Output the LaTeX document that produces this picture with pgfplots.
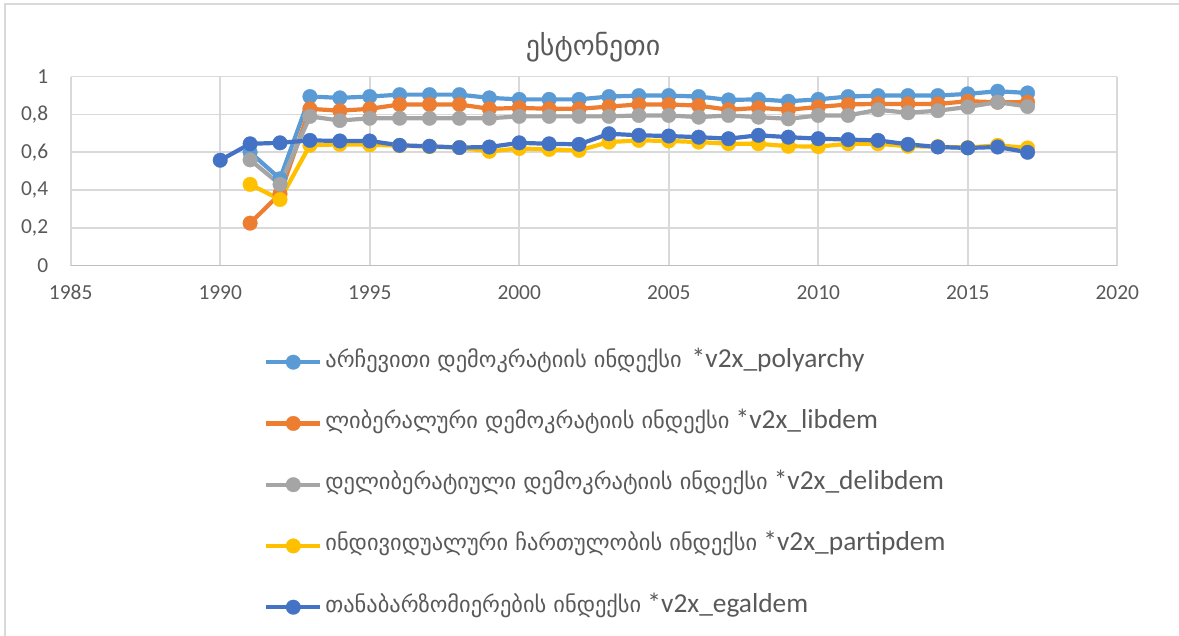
\documentclass[border=0pt]{standalone}
\usepackage{fontspec}
\setmainfont{Carlito}
\newfontfamily\geo{DejaVu Sans}
\usepackage{pgfplots}
\pgfplotsset{compat=1.18}
\definecolor{txt}{HTML}{595959}
\definecolor{gridc}{HTML}{D9D9D9}
\definecolor{axc}{HTML}{BFBFBF}
\definecolor{cpoly}{HTML}{5B9BD5}
\definecolor{clib}{HTML}{ED7D31}
\definecolor{cdel}{HTML}{A5A5A5}
\definecolor{cpart}{HTML}{FFC000}
\definecolor{cegal}{HTML}{4472C4}
\newcommand{\gl}[1]{{\geo\fontsize{22.5}{26}\selectfont #1}}
\begin{document}
\begin{tikzpicture}[x=1bp,y=1bp]
\path[use as bounding box] (0,0) rectangle (1179,636);
\draw[color=gridc, line width=1.4bp] (1179,632) -- (5,632) -- (5,0);
\node[text=txt, font=\geo\fontsize{28}{34}\selectfont] at (593,589) {ესტონეთი};
\begin{axis}[
  at={(70.7bp,370.3bp)}, anchor=south west,
  scale only axis, width=1046.6bp, height=189bp,
  xmin=1985, xmax=2020, ymin=0, ymax=1,
  xtick={1985,1990,...,2020},
  ytick={0,0.2,0.4,0.6,0.8,1},
  grid=major,
  major grid style={color=gridc, line width=1.6bp},
  axis line style={draw=none},
  major tick length=0pt,
  tick label style={font=\fontsize{21.5}{26}\selectfont, text=txt},
  /pgf/number format/assume math mode=true,
  /pgf/number format/use comma,
  /pgf/number format/1000 sep={},
  yticklabel style={xshift=-19bp},
  xticklabel style={yshift=-16bp},
  every axis plot/.append style={line width=4.2bp, mark=*, mark size=7.3bp},
  legend image code/.code={\draw[mark repeat=2, mark phase=2] plot coordinates {(0bp,0bp) (27bp,0bp) (54bp,0bp)};},
  legend cell align=left,
  legend style={draw=none, fill=none, inner sep=0pt, row sep=41.25bp,
    at={(0.1847,-0.4566)}, anchor=north west,
    font=\fontsize{27.5}{30}\selectfont, text=txt,
    nodes={inner sep=0pt, text height=15bp, text depth=5bp},
    /tikz/every odd column/.append style={column sep=3bp}},
  after end axis/.code={\draw[color=axc, line width=1.6bp] (rel axis cs:0,0) -- (rel axis cs:1,0);},
]
\addplot[color=cpoly, mark options={fill=cpoly, draw=cpoly, line width=0.3bp}] coordinates {
(1991,0.600)(1992,0.460)(1993,0.895)(1994,0.888)(1995,0.895)(1996,0.905)(1997,0.905)(1998,0.905)(1999,0.888)(2000,0.880)
(2001,0.880)(2002,0.880)(2003,0.895)(2004,0.900)(2005,0.900)(2006,0.895)(2007,0.877)(2008,0.880)(2009,0.870)(2010,0.880)
(2011,0.895)(2012,0.900)(2013,0.900)(2014,0.900)(2015,0.909)(2016,0.923)(2017,0.914)};
\addlegendentry{\gl{არჩევითი დემოკრატიის ინდექსი}\hspace{10bp}*v2x\_polyarchy}
\addplot[color=clib, mark options={fill=clib, draw=clib, line width=0.3bp}] coordinates {
(1991,0.225)(1992,0.380)(1993,0.830)(1994,0.820)(1995,0.830)(1996,0.853)(1997,0.853)(1998,0.853)(1999,0.830)(2000,0.835)
(2001,0.830)(2002,0.830)(2003,0.842)(2004,0.853)(2005,0.853)(2006,0.847)(2007,0.825)(2008,0.835)(2009,0.825)(2010,0.840)
(2011,0.853)(2012,0.856)(2013,0.856)(2014,0.856)(2015,0.870)(2016,0.865)(2017,0.865)};
\addlegendentry{\gl{ლიბერალური დემოკრატიის ინდექსი} *v2x\_libdem}
\addplot[color=cdel, mark options={fill=cdel, draw=cdel, line width=0.3bp}] coordinates {
(1991,0.560)(1992,0.430)(1993,0.790)(1994,0.768)(1995,0.780)(1996,0.780)(1997,0.780)(1998,0.780)(1999,0.780)(2000,0.790)
(2001,0.790)(2002,0.790)(2003,0.790)(2004,0.795)(2005,0.795)(2006,0.786)(2007,0.795)(2008,0.786)(2009,0.777)(2010,0.795)
(2011,0.795)(2012,0.825)(2013,0.809)(2014,0.820)(2015,0.840)(2016,0.865)(2017,0.842)};
\addlegendentry{\gl{დელიბერატიული დემოკრატიის ინდექსი} *v2x\_delibdem}
\addplot[color=cpart, mark options={fill=cpart, draw=cpart, line width=0.3bp}] coordinates {
(1991,0.430)(1992,0.350)(1993,0.637)(1994,0.642)(1995,0.640)(1996,0.635)(1997,0.630)(1998,0.625)(1999,0.605)(2000,0.620)
(2001,0.615)(2002,0.610)(2003,0.654)(2004,0.663)(2005,0.660)(2006,0.654)(2007,0.645)(2008,0.645)(2009,0.632)(2010,0.630)
(2011,0.645)(2012,0.645)(2013,0.632)(2014,0.630)(2015,0.625)(2016,0.637)(2017,0.623)};
\addlegendentry{\gl{ინდივიდუალური ჩართულობის ინდექსი} *v2x\_partipdem}
\addplot[color=cegal, mark options={fill=cegal, draw=cegal, line width=0.3bp}] coordinates {
(1990,0.558)(1991,0.645)(1992,0.650)(1993,0.663)(1994,0.660)(1995,0.660)(1996,0.637)(1997,0.632)(1998,0.625)(1999,0.628)(2000,0.650)
(2001,0.645)(2002,0.642)(2003,0.698)(2004,0.690)(2005,0.686)(2006,0.680)(2007,0.672)(2008,0.690)(2009,0.680)(2010,0.672)
(2011,0.667)(2012,0.663)(2013,0.642)(2014,0.628)(2015,0.623)(2016,0.628)(2017,0.600)};
\addlegendentry{\gl{თანაბარზომიერების ინდექსი} *v2x\_egaldem}
\end{axis}
\end{tikzpicture}
\end{document}
